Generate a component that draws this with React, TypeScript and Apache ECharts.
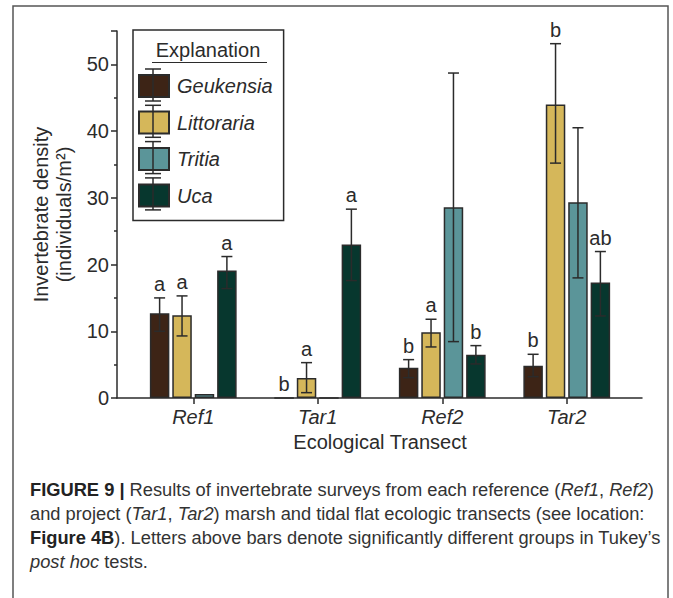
import React, { useEffect, useRef } from "react";
import * as echarts from "echarts";

const categories = ["Ref1", "Tar1", "Ref2", "Tar2"];
const speciesNames = ["Geukensia", "Littoraria", "Tritia", "Uca"];

const geukensiaMean = [12.7, 0, 4.55, 4.85];
const geukensiaLow = [10.0, null, 3.05, 3.2];
const geukensiaHigh = [15.0, null, 5.75, 6.55];
const geukensiaLetters = ["a", "b", "b", "b"];

const littorariaMean = [12.4, 3.0, 9.85, 44.0];
const littorariaLow = [9.3, 0.8, 7.65, 35.2];
const littorariaHigh = [15.3, 5.3, 11.8, 53.1];
const littorariaLetters = ["a", "a", "a", "b"];

const tritiaMean = [0.6, 0, 28.6, 29.35];
const tritiaLow = [null, null, 8.45, 18.0];
const tritiaHigh = [null, null, 48.7, 40.5];
const tritiaLetters = ["", "", "", ""];

const ucaMean = [19.1, 23.0, 6.5, 17.3];
const ucaLow = [16.4, 17.6, 5.1, 12.3];
const ucaHigh = [21.2, 28.3, 7.85, 21.95];
const ucaLetters = ["a", "a", "b", "ab"];

const yTicks = { min: 0, max: 55, interval: 10 };

const means = [geukensiaMean, littorariaMean, tritiaMean, ucaMean];
const lows = [geukensiaLow, littorariaLow, tritiaLow, ucaLow];
const highs = [geukensiaHigh, littorariaHigh, tritiaHigh, ucaHigh];
const letters = [geukensiaLetters, littorariaLetters, tritiaLetters, ucaLetters];

const COLORS = ["#3d2416", "#d5b75a", "#5b9599", "#07372e"];
const FONT = "'Liberation Sans', Arial, Helvetica, sans-serif";
const INK = "#2b2b2b";
const BAR_W = 19.5;
const GAP_RATIO = 0.15;

function seriesOffset(k: number) {
  const gap = BAR_W * GAP_RATIO;
  const total = 4 * BAR_W + 3 * gap;
  return -total / 2 + BAR_W / 2 + k * (BAR_W + gap);
}

export default function App() {
  const ref = useRef<HTMLDivElement>(null);
  useEffect(() => {
    document.body.style.margin = "0";
    if (!ref.current) return;
    const chart = echarts.init(ref.current, null, { renderer: "svg" });

    const barSeries = speciesNames.map((name, k) => ({
      name,
      type: "bar",
      xAxisIndex: 1,
      yAxisIndex: 1,
      barWidth: BAR_W,
      barGap: GAP_RATIO * 100 + "%",
      data: means[k],
      itemStyle: { color: COLORS[k], borderColor: INK, borderWidth: 1.5 },
      z: 2,
    }));

    const errSeries = speciesNames.map((name, k) => ({
      type: "custom",
      xAxisIndex: 1,
      yAxisIndex: 1,
      silent: true,
      z: 5,
      data: categories.map((c, i) => [i, means[k][i]]),
      renderItem: (params: any, api: any) => {
        const i = params.dataIndex;
        const cat = api.value(0);
        const x0 = api.coord([cat, 0])[0] + seriesOffset(k);
        const children: any[] = [];
        let topY = api.coord([cat, means[k][i]])[1];
        const lo = lows[k][i];
        const hi = highs[k][i];
        const stroke = { stroke: INK, lineWidth: 1.5 };
        if (lo != null && hi != null) {
          const yl = api.coord([cat, lo])[1];
          const yh = api.coord([cat, hi])[1];
          const cw = 5.5;
          children.push({ type: "line", shape: { x1: x0, y1: yl, x2: x0, y2: yh }, style: stroke });
          children.push({ type: "line", shape: { x1: x0 - cw, y1: yl, x2: x0 + cw, y2: yl }, style: stroke });
          children.push({ type: "line", shape: { x1: x0 - cw, y1: yh, x2: x0 + cw, y2: yh }, style: stroke });
          topY = Math.min(topY, yh);
        }
        if (letters[k][i]) {
          children.push({
            type: "text",
            x: x0,
            y: topY - 4,
            style: {
              text: letters[k][i],
              align: "center",
              verticalAlign: "bottom",
              fontSize: 20,
              fontFamily: FONT,
              fill: INK,
            },
          });
        }
        return { type: "group", children };
      },
    }));

    // legend error-bar decorations
    const legendDeco: any[] = [];
    const swTop = 74;
    const pitch = 36.3;
    for (let k = 0; k < 4; k++) {
      const t = swTop + k * pitch - 5;
      const b = swTop + k * pitch + 22 + 5;
      const cx = 153;
      const st = { stroke: INK, lineWidth: 1.5 };
      legendDeco.push({ type: "line", shape: { x1: cx, y1: t, x2: cx, y2: b }, style: st, z: 100 });
      legendDeco.push({ type: "line", shape: { x1: cx - 8, y1: t, x2: cx + 8, y2: t }, style: st, z: 100 });
      legendDeco.push({ type: "line", shape: { x1: cx - 8, y1: b, x2: cx + 8, y2: b }, style: st, z: 100 });
    }

    const caption =
      "{b|FIGURE 9 |} Results of invertebrate surveys from each reference ({i|Ref1}, {i|Ref2})\n" +
      "and project ({i|Tar1}, {i|Tar2}) marsh and tidal flat ecologic transects (see location:\n" +
      "{b|Figure 4B}). Letters above bars denote significantly different groups in Tukey\u2019s\n" +
      "{i|post hoc} tests.";

    chart.setOption({
      animation: false,
      backgroundColor: "#ffffff",
      textStyle: { fontFamily: FONT },
      grid: [
        { left: 117, right: 31, top: 31, bottom: 200 },
        { left: 131, right: 44, top: 31, bottom: 200 },
      ],
      xAxis: [
        {
          type: "value",
          gridIndex: 0,
          min: 0,
          max: 1,
          axisLine: { show: true, onZero: false, lineStyle: { color: INK, width: 1.5 } },
          axisTick: { show: false },
          axisLabel: { show: false },
          splitLine: { show: false },
        },
        {
          type: "category",
          gridIndex: 1,
          data: categories,
          axisLine: { show: false },
          axisTick: { show: true, alignWithLabel: true, length: 6, lineStyle: { color: INK, width: 1.5 } },
          axisLabel: { fontSize: 20, fontStyle: "italic", color: INK, margin: 9, fontFamily: FONT },
          name: "Ecological Transect",
          nameLocation: "middle",
          nameGap: 29,
          nameTextStyle: { fontSize: 20, color: INK, fontFamily: FONT },
        },
      ],
      yAxis: [
        {
          type: "value",
          gridIndex: 0,
          min: yTicks.min,
          max: yTicks.max,
          interval: yTicks.interval,
          axisLine: { show: true, lineStyle: { color: INK, width: 1.5 } },
          axisTick: { show: true, length: 6, lineStyle: { color: INK, width: 1.5 } },
          minorTick: { show: true, splitNumber: 2, length: 3, lineStyle: { color: INK, width: 1.5 } },
          axisLabel: { fontSize: 20, color: INK, margin: 8, showMaxLabel: false, fontFamily: FONT },
          splitLine: { show: false },
          name: "Invertebrate density\n(individuals/m\u00b2)",
          nameLocation: "middle",
          nameGap: 35,
          nameRotate: 90,
          nameTextStyle: { fontSize: 20, color: INK, lineHeight: 23, fontFamily: FONT },
        },
        {
          type: "value",
          gridIndex: 1,
          min: yTicks.min,
          max: yTicks.max,
          interval: yTicks.interval,
          show: false,
        },
      ],
      legend: {
        orient: "vertical",
        left: 133,
        top: 30,
        padding: [44, 11, 13, 5],
        itemWidth: 30,
        itemHeight: 22,
        itemGap: 12.5,
        icon: "rect",
        borderColor: INK,
        borderWidth: 1.5,
        data: speciesNames,
        textStyle: { fontSize: 20, fontStyle: "italic", color: INK, lineHeight: 22, fontFamily: FONT, padding: [0, 0, 0, 3] },
      },
      graphic: [
        {
          type: "rect",
          shape: { x: 13, y: 6, width: 655, height: 640 },
          style: { fill: "none", stroke: "#555", lineWidth: 1.5 },
          silent: true,
        },
        {
          type: "text",
          x: 208,
          y: 50,
          style: { text: "Explanation", fontSize: 20, fontFamily: FONT, fill: INK, align: "center", verticalAlign: "middle" },
          z: 100,
        },
        {
          type: "line",
          shape: { x1: 152, y1: 62.5, x2: 267, y2: 62.5 },
          style: { stroke: INK, lineWidth: 1.2 },
          z: 100,
        },
        ...legendDeco,
        {
          type: "text",
          x: 30,
          y: 477,
          style: {
            text: caption,
            fontSize: 18.3,
            lineHeight: 24,
            fontFamily: FONT,
            fill: "#333",
            rich: {
              b: { fontWeight: "bold", fontSize: 18.3, lineHeight: 24, fontFamily: FONT, fill: "#222" },
              i: { fontStyle: "italic", fontSize: 18.3, lineHeight: 24, fontFamily: FONT, fill: "#333" },
            },
          },
        },
      ],
      series: [...barSeries, ...errSeries],
    });
    return () => chart.dispose();
  }, []);
  return <div ref={ref} style={{ width: 673, height: 598 }} />;
}
